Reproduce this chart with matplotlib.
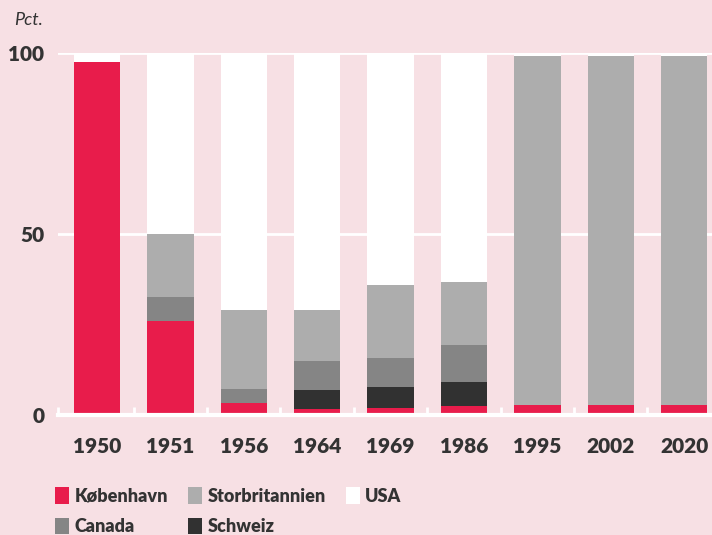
import matplotlib.pyplot as plt
import numpy as np

plt.rcParams['font.family'] = ['Lato', 'DejaVu Sans']

years = ['1950', '1951', '1956', '1964', '1969', '1986', '1995', '2002', '2020']
kobenhavn = [97.5, 25.9, 3.3, 1.7, 1.9, 2.5, 2.8, 2.8, 2.8]
schweiz = [0, 0, 0, 5.2, 5.9, 6.7, 0, 0, 0]
canada = [0, 6.6, 3.9, 8.1, 8.0, 10.2, 0, 0, 0]
storbritannien = [0, 17.5, 21.7, 13.9, 20.0, 17.3, 96.4, 96.4, 96.4]

bg = '#f7e0e4'
txt = '#333333'
col_kbh = '#e81c4b'
col_sch = '#313131'
col_can = '#858585'
col_gb = '#adadad'
col_usa = '#ffffff'

kbh = np.array(kobenhavn)
sch = np.array(schweiz)
can = np.array(canada)
gb = np.array(storbritannien)
usa = 100 - kbh - sch - can - gb

fig = plt.figure(figsize=(7.12, 5.35), dpi=100, facecolor=bg)
ax = fig.add_axes([0.0815, 0.2243, 0.9185, 0.6766])
ax.set_facecolor(bg)

x = np.arange(len(years))
w = 0.63
b1 = ax.bar(x, kbh, w, color=col_kbh, label='København', zorder=3)
b2 = ax.bar(x, sch, w, bottom=kbh, color=col_sch, label='Schweiz', zorder=3)
b3 = ax.bar(x, can, w, bottom=kbh + sch, color=col_can, label='Canada', zorder=3)
b4 = ax.bar(x, gb, w, bottom=kbh + sch + can, color=col_gb, label='Storbritannien', zorder=3)
b5 = ax.bar(x, usa, w, bottom=kbh + sch + can + gb, color=col_usa, label='USA', zorder=3)

ax.set_xlim(-0.531, 8.379)
ax.set_ylim(0, 100)

for s in ax.spines.values():
    s.set_visible(False)
ax.axhline(0, color='white', lw=3, zorder=4, clip_on=False)
for g in [50, 100]:
    ax.axhline(g, color='white', lw=2, zorder=1)

ax.set_yticks([0, 50, 100])
ax.set_yticklabels(['0', '50', '100'])
ax.set_xticks(x)
ax.set_xticklabels(years)
ax.set_xticks([-0.531] + list(x[:-1] + 0.5), minor=True)
ax.tick_params(axis='both', which='major', length=0, labelsize=15, labelcolor=txt)
ax.tick_params(axis='x', which='major', pad=16)
ax.tick_params(axis='y', which='major', pad=10)
ax.tick_params(axis='x', which='minor', direction='in', length=6, width=2, color='white')
for lab in ax.get_xticklabels() + ax.get_yticklabels():
    lab.set_fontweight('heavy')

fig.text(0.0197, 0.978, 'Pct.', fontsize=13, style='italic', color=txt, va='top')

leg = fig.legend([b1, b3, b4, b2, b5],
                 ['København', 'Canada', 'Storbritannien', 'Schweiz', 'USA'],
                 ncol=3, loc='upper left', bbox_to_anchor=(0.0674, 0.103),
                 frameon=False, prop={'size': 13, 'weight': 'heavy'},
                 handlelength=0.78, handleheight=1.05, handletextpad=0.3,
                 columnspacing=1.1, labelspacing=0.72, borderaxespad=0)
for t in leg.get_texts():
    t.set_color(txt)

fig.savefig('out.png', dpi=100, facecolor=bg)
